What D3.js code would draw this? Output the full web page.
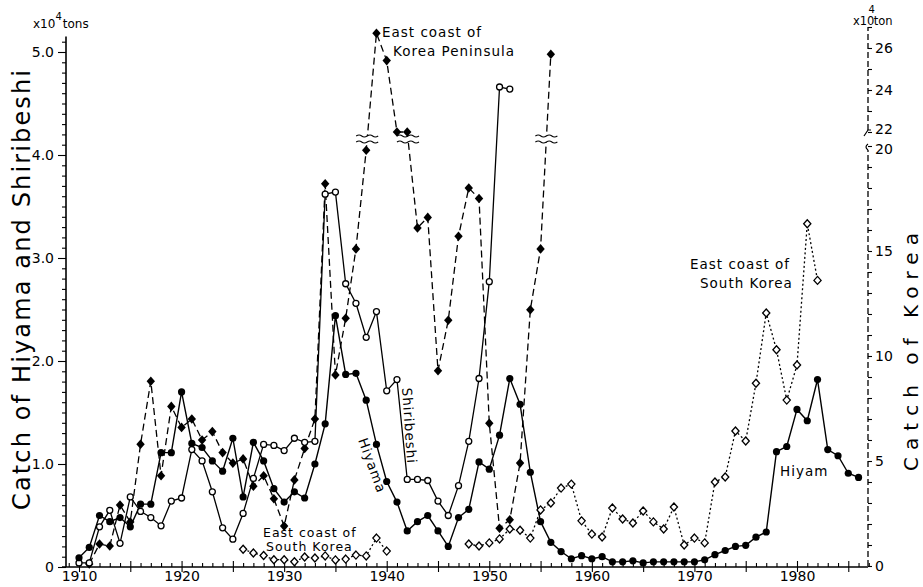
<!DOCTYPE html>
<html>

<head>
  <meta charset="utf-8">
  <title>Catch of Hiyama, Shiribeshi and Korea</title>
  <script src="https://cdn.jsdelivr.net/npm/d3@7"></script>
  <style>
    body { margin: 0; background: #fff; }
    text { font-family: "DejaVu Sans", sans-serif; fill: #000; }
  </style>
</head>

<body>
  <svg width="923" height="587" id="mainsvg"></svg>
  <script>
    // Hiyama (left axis, x10^4 tons), filled circles, solid
    const hiyamaYears = d3.range(1910, 1987);
    const hiyama = [0.09, 0.19, 0.50, 0.44, 0.48, 0.39, 0.61, 0.61, 1.11, 1.11,
      1.70, 1.20, 1.16, 1.03, 0.93, 1.25, 0.68, 1.21, 1.03, 0.76,
      0.63, 0.73, 0.67, 1.00, 1.39, 2.44, 1.87, 1.88, 1.62, 1.19,
      0.83, 0.63, 0.35, 0.44, 0.50, 0.35, 0.20, 0.48, 0.56, 1.02,
      0.95, 1.28, 1.83, 1.58, 0.92, 0.44, 0.24, 0.15, 0.08, 0.11,
      0.08, 0.10, 0.05, 0.05, 0.06, 0.04, 0.05, 0.05, 0.05, 0.05,
      0.05, 0.07, 0.12, 0.16, 0.20, 0.21, 0.29, 0.34, 1.12, 1.17,
      1.53, 1.42, 1.82, 1.14, 1.08, 0.91, 0.87];

    // Shiribeshi (left axis), open circles, solid
    const shiribeshiYears = d3.range(1910, 1953);
    const shiribeshi = [0.04, 0.04, 0.39, 0.55, 0.23, 0.68, 0.54, 0.48, 0.40, 0.64,
      0.67, 1.14, 1.03, 0.73, 0.38, 0.27, 0.52, 0.86, 1.19, 1.18,
      1.13, 1.25, 1.21, 1.22, 3.62, 3.64, 2.75, 2.56, 2.23, 2.48,
      1.71, 1.82, 0.85, 0.85, 0.84, 0.64, 0.50, 0.79, 1.22, 1.83,
      2.77, 4.66, 4.64];

    // East coast of Korea Peninsula (right axis, x10^4 ton), filled diamonds, dashed
    const peninsulaYears = d3.range(1911, 1957);
    const peninsula = [0.1, 1.05, 0.95, 2.9, 2.1, 5.8, 8.8, 4.3, 7.6,
      6.6, 7.0, 6.0, 6.4, 5.4, 4.9, 5.1, 3.8, 4.3, 3.2,
      1.9, 4.1, 5.6, 7.0, 18.2, 9.1, 11.8, 15.1, 19.8, 26.7,
      25.4, 22.0, 22.0, 16.1, 16.6, 9.3, 11.7, 15.7, 18.0, 17.5,
      6.8, 1.8, 2.2, 4.9, 12.2, 15.1, 25.7];

    // East coast of South Korea (right axis), open diamonds, dotted
    const southYears = d3.range(1926, 1983);
    const southKorea = [0.8, 0.62, 0.5, 0.3, 0.3, 0.2, 0.43, 0.38, 0.48, 0.29,
      0.33, 0.52, 0.48, 1.33, 0.71, null, null, null, null, null,
      null, null, 1.05, 0.95, 1.1, 1.29, 1.76, 1.7, 1.33, 2.67,
      3.0, 3.71, 3.9, 2.15, 1.52, 1.38, 2.76, 2.24, 2.05, 2.62,
      2.1, 1.76, 2.81, 1.0, 1.33, 1.1, 4.0, 4.24, 6.43, 5.95,
      8.7, 12.05, 10.3, 7.9, 9.57, 16.3, 13.6];

    const decadeLabels = [1910, 1920, 1930, 1940, 1950, 1960, 1970, 1980];
    const leftLabels = [0, 1, 2, 3, 4, 5];
    const rightLabels = [0, 5, 10, 15, 20, 22, 24, 26];

    const svg = d3.select('#mainsvg');
    svg.append('rect').attr('width', 923).attr('height', 587).attr('fill', '#fff');

    const xScale = d3.scaleLinear().domain([1910, 1980]).range([79, 797]);
    const yLeft = d3.scaleLinear().domain([0, 5]).range([567, 52]);
    // broken right axis: 20..22 squeezed into a small gap
    const yRight = d3.scaleLinear().domain([0, 20, 22, 27]).range([566, 146, 132, 27]);

    const axisLeftX = 66, axisRightX = 868, axisBottomY = 567;

    // ---- axes ----
    const leftTicks = d3.range(0, 52).map(d => d / 10);
    const yAxis = d3.axisLeft(yLeft)
      .tickValues(leftTicks)
      .tickSize(4)
      .tickPadding(8)
      .tickFormat(d => leftLabels.includes(Math.round(d * 10) / 10) ? (d === 0 ? '0' : d3.format('.1f')(d)) : '');
    const yAxisGroup = svg.append('g')
      .attr('transform', `translate(${axisLeftX},0)`)
      .call(yAxis);
    yAxisGroup.select('.domain').remove();
    yAxisGroup.selectAll('.tick line')
      .attr('x2', d => leftLabels.includes(Math.round(d * 10) / 10) ? -8 : -4)
      .attr('stroke-width', 1.1);
    yAxisGroup.selectAll('text').attr('font-size', 14).attr('font-family', '"DejaVu Sans", sans-serif');
    svg.append('line')
      .attr('x1', axisLeftX).attr('x2', axisLeftX)
      .attr('y1', axisBottomY).attr('y2', yLeft(5.15))
      .attr('stroke', '#000').attr('stroke-width', 1.6);

    const rightTicks = d3.range(0, 21).concat(d3.range(22, 28));
    const yAxisR = d3.axisRight(yRight)
      .tickValues(rightTicks)
      .tickSize(4)
      .tickPadding(3)
      .tickFormat(d => rightLabels.includes(d) ? d : '');
    const yAxisRGroup = svg.append('g')
      .attr('transform', `translate(${axisRightX},0)`)
      .call(yAxisR);
    yAxisRGroup.select('.domain').remove();
    yAxisRGroup.selectAll('.tick line').attr('stroke-width', 1.1);
    yAxisRGroup.selectAll('text')
      .attr('font-size', 14)
      .attr('font-family', '"DejaVu Sans", sans-serif')
      .attr('dy', d => d === 22 ? '0.1em' : (d === 20 ? '0.55em' : '0.32em'));
    // dashed right axis line, with a break between 20 and 22
    svg.append('line')
      .attr('x1', axisRightX).attr('x2', axisRightX)
      .attr('y1', yRight(0)).attr('y2', yRight(20) + 4)
      .attr('stroke', '#000').attr('stroke-width', 1.3).attr('stroke-dasharray', '6,3');
    svg.append('line')
      .attr('x1', axisRightX).attr('x2', axisRightX)
      .attr('y1', yRight(22) - 2).attr('y2', yRight(27))
      .attr('stroke', '#000').attr('stroke-width', 1.3).attr('stroke-dasharray', '6,3');
    svg.append('path')
      .attr('d', `M${axisRightX},${yRight(20) + 4} q-4,-3 0,-6 M${axisRightX - 4},${yRight(22) + 4} l4,-6 l3,0`)
      .attr('fill', 'none').attr('stroke', '#000').attr('stroke-width', 1.2);

    const xTicks = d3.range(1909, 1988);
    const xAxis = d3.axisBottom(xScale)
      .tickValues(xTicks)
      .tickSize(0)
      .tickPadding(4)
      .tickFormat(d => decadeLabels.includes(d) ? d : '');
    const xAxisGroup = svg.append('g')
      .attr('transform', `translate(0,${axisBottomY})`)
      .call(xAxis);
    xAxisGroup.select('.domain').remove();
    xAxisGroup.selectAll('.tick line')
      .attr('y1', d => d % 5 === 0 ? 5 : 0)
      .attr('y2', d => d % 5 === 0 ? -6 : -4)
      .attr('stroke-width', 1.1);
    xAxisGroup.selectAll('text').attr('font-size', 14).attr('font-family', '"DejaVu Sans", sans-serif');
    svg.append('line')
      .attr('x1', axisLeftX - 4).attr('x2', axisRightX)
      .attr('y1', axisBottomY).attr('y2', axisBottomY)
      .attr('stroke', '#000').attr('stroke-width', 1.6);

    // ---- series ----
    const toPoints = (years, vals) => years.map((yr, i) => ({ year: yr, v: vals[i] }));
    const hiyamaPts = toPoints(hiyamaYears, hiyama);
    const shiriPts = toPoints(shiribeshiYears, shiribeshi);
    const peninPts = toPoints(peninsulaYears, peninsula);
    const southPts = toPoints(southYears, southKorea);

    const lineL = d3.line().defined(d => d.v != null).x(d => xScale(d.year)).y(d => yLeft(d.v));
    const lineR = d3.line().defined(d => d.v != null).x(d => xScale(d.year)).y(d => yRight(d.v));

    const g = svg.append('g');
    g.append('path').datum(southPts).attr('d', lineR)
      .attr('fill', 'none').attr('stroke', '#000').attr('stroke-width', 1.3).attr('stroke-dasharray', '2,2.5');
    g.append('path').datum(peninPts).attr('d', lineR)
      .attr('fill', 'none').attr('stroke', '#000').attr('stroke-width', 1.3).attr('stroke-dasharray', '7,4');
    g.append('path').datum(shiriPts).attr('d', lineL)
      .attr('fill', 'none').attr('stroke', '#000').attr('stroke-width', 1.3);
    g.append('path').datum(hiyamaPts).attr('d', lineL)
      .attr('fill', 'none').attr('stroke', '#000').attr('stroke-width', 1.4);

    // break marks where the peninsula line crosses the axis gap
    for (let i = 1; i < peninPts.length; i++) {
      const a = peninPts[i - 1], b = peninPts[i];
      if ((a.v - 21) * (b.v - 21) < 0) {
        const ya = yRight(a.v), yb = yRight(b.v), yc = yRight(21);
        const xc = xScale(a.year) + (xScale(b.year) - xScale(a.year)) * (yc - ya) / (yb - ya);
        const mark = g.append('g').attr('transform', `translate(${xc},${yc})`);
        mark.append('rect').attr('x', -11).attr('y', -3).attr('width', 22).attr('height', 6).attr('fill', '#fff');
        mark.append('path')
          .attr('d', 'M-11,-3 q3,-2 5.5,0 t5.5,0 t5.5,0 t5.5,0 M-11,3 q3,-2 5.5,0 t5.5,0 t5.5,0 t5.5,0')
          .attr('fill', 'none').attr('stroke', '#000').attr('stroke-width', 1.1);
      }
    }

    const diamond = (h, w) => `M0,${-h}L${w},0L0,${h}L${-w},0Z`;

    g.selectAll('.south').data(southPts.filter(d => d.v != null)).enter()
      .append('path').attr('class', 'south')
      .attr('transform', d => `translate(${xScale(d.year)},${yRight(d.v)})`)
      .attr('d', diamond(4, 3.6))
      .attr('fill', '#fff').attr('stroke', '#000').attr('stroke-width', 1.3);

    g.selectAll('.penin').data(peninPts).enter()
      .append('path').attr('class', 'penin')
      .attr('transform', d => `translate(${xScale(d.year)},${yRight(d.v)})`)
      .attr('d', diamond(4.8, 4.2))
      .attr('fill', '#000');

    g.selectAll('.shiri').data(shiriPts).enter()
      .append('circle').attr('class', 'shiri')
      .attr('cx', d => xScale(d.year)).attr('cy', d => yLeft(d.v))
      .attr('r', 3)
      .attr('fill', '#fff').attr('stroke', '#000').attr('stroke-width', 1.3);

    g.selectAll('.hiyama').data(hiyamaPts).enter()
      .append('circle').attr('class', 'hiyama')
      .attr('cx', d => xScale(d.year)).attr('cy', d => yLeft(d.v))
      .attr('r', 3.6)
      .attr('fill', '#000');

    // ---- text ----
    const label = (x, y, str, size, rot) => {
      const t = svg.append('text')
        .attr('transform', `translate(${x},${y})` + (rot ? ` rotate(${rot})` : ''))
        .attr('font-size', size)
        .attr('letter-spacing', 1)
        .text(str);
      return t;
    };
    label(382, 37, 'East coast of', 13.5);
    label(393, 56, 'Korea Peninsula', 13.5);
    label(690, 269, 'East coast of', 13.5);
    label(700, 288, 'South Korea', 13.5);
    label(263, 537, 'East coast of', 12.5);
    label(266, 551, 'South Korea', 12.5);
    label(780, 476, 'Hiyam', 13.5);
    label(402, 388, 'Shiribeshi', 13.5, 86);
    label(358, 440, 'Hiyama', 13.5, 70);

    const unitL = svg.append('text').attr('x', 33).attr('y', 28).attr('font-size', 12);
    unitL.append('tspan').text('x10');
    unitL.append('tspan').attr('dy', -8).attr('font-size', 10).text('4');
    unitL.append('tspan').attr('dy', 8).attr('dx', 1).text('tons');

    const unitR = svg.append('text').attr('x', 853).attr('y', 25).attr('font-size', 11.5);
    unitR.append('tspan').text('x10');
    unitR.append('tspan').attr('dy', -12).attr('dx', -6).attr('font-size', 10).text('4');
    unitR.append('tspan').attr('dy', 12).attr('dx', -1).text('ton');

    svg.append('text')
      .attr('transform', 'translate(30,290) rotate(-90)')
      .attr('text-anchor', 'middle')
      .attr('font-size', 24)
      .attr('textLength', 440)
      .attr('lengthAdjust', 'spacing')
      .text('Catch of Hiyama and Shiribeshi');

    svg.append('text')
      .attr('transform', 'translate(918,352) rotate(-90)')
      .attr('text-anchor', 'middle')
      .attr('font-size', 20)
      .attr('textLength', 238)
      .attr('lengthAdjust', 'spacing')
      .text('Catch of Korea');
  </script>
</body>

</html>
